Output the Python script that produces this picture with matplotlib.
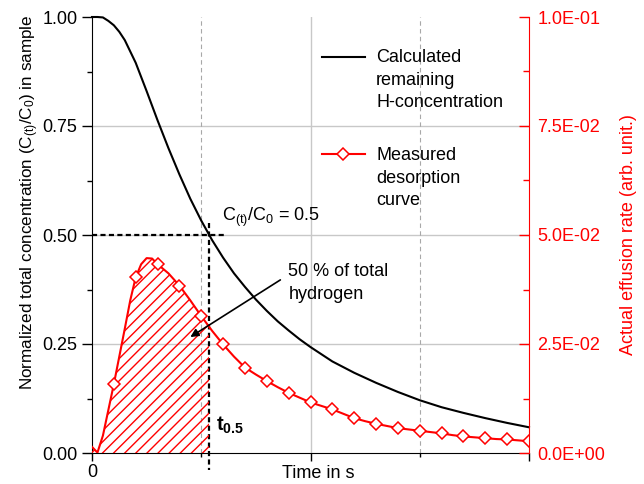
import numpy as np
import matplotlib
matplotlib.use('Agg')
import matplotlib.pyplot as plt
from matplotlib.patches import Rectangle
from matplotlib.ticker import MultipleLocator, FuncFormatter, FormatStrFormatter

plt.rcParams['font.family'] = ['Liberation Sans', 'DejaVu Sans']
plt.rcParams['font.size'] = 13
plt.rcParams['mathtext.fontset'] = 'custom'
plt.rcParams['mathtext.rm'] = 'Liberation Sans'
plt.rcParams['mathtext.it'] = 'Liberation Sans:italic'
plt.rcParams['mathtext.bf'] = 'Liberation Sans:bold'
plt.rcParams['hatch.linewidth'] = 1.0

# calculated remaining H-concentration C(t)/C0 (left axis)
t_calc = [0, 0.025, 0.05, 0.075, 0.1, 0.125, 0.15, 0.2, 0.25, 0.3, 0.35, 0.4,
          0.45, 0.5, 0.55, 0.6, 0.65, 0.7, 0.75, 0.8, 0.85, 0.9, 0.95, 1.0, 1.1,
          1.2, 1.3, 1.4, 1.5, 1.6, 1.7, 1.8, 1.9, 2.0]
c_calc = [1.0, 1.0, 0.999, 0.991, 0.981, 0.966, 0.947, 0.895, 0.83, 0.763,
          0.699, 0.639, 0.583, 0.533, 0.488, 0.448, 0.412, 0.381, 0.352, 0.326,
          0.302, 0.281, 0.261, 0.243, 0.21, 0.184, 0.161, 0.14, 0.121, 0.105,
          0.092, 0.08, 0.069, 0.059]

# measured desorption curve (right axis, arb. unit)
t_rate = [0, 0.025, 0.05, 0.1, 0.15, 0.175, 0.2, 0.225, 0.25, 0.275, 0.3, 0.35,
          0.4, 0.45, 0.5, 0.55, 0.6, 0.65, 0.7, 0.75, 0.8, 0.85, 0.9, 0.95, 1.0,
          1.05, 1.1, 1.15, 1.2, 1.25, 1.3, 1.35, 1.4, 1.45, 1.5, 1.55, 1.6, 1.65,
          1.7, 1.75, 1.8, 1.85, 1.9, 1.95, 2.0]
rate = [0.0014, 0.0001, 0.0040, 0.0158, 0.0285, 0.0350, 0.0403, 0.0433, 0.0447,
        0.0446, 0.0433, 0.0412, 0.0384, 0.0350, 0.0314, 0.0280, 0.0249, 0.0221,
        0.0196, 0.0180, 0.0165, 0.0151, 0.0138, 0.0127, 0.0116, 0.0108, 0.0100,
        0.0090, 0.0080, 0.0073, 0.0067, 0.0062, 0.0057, 0.0054, 0.0051, 0.0048,
        0.0045, 0.0041, 0.0038, 0.0036, 0.0034, 0.0032, 0.0031, 0.0029, 0.0027]

t_half = 0.537  # time where C(t)/C0 = 0.5

# markers every 0.1 s
marker_idx = [i for i, t in enumerate(t_rate)
              if t > 0 and abs(t * 10 - round(t * 10)) < 1e-6]

fig = plt.figure(figsize=(6.44, 4.84), dpi=100)
ax = fig.add_axes([92 / 644, 31 / 484, 437 / 644, 436 / 484])
ax2 = ax.twinx()

# grid
for y in [0.25, 0.5, 0.75]:
    ax.axhline(y, color='#c8c8c8', lw=1.0, zorder=0)
ax.axvline(1.0, color='#c8c8c8', lw=1.0, zorder=0)
for x in [0.5, 1.5]:
    ax.axvline(x, color='#a8a8a8', lw=0.8, ls=(0, (4, 3)), zorder=0)

# calculated curve
ax.plot(t_calc, c_calc, color='black', lw=1.5, clip_on=False, zorder=3)

# t0.5 construction lines
ax.plot([0, 0.61], [0.5, 0.5], color='black', lw=1.6, ls=(0, (2.3, 1.5)), zorder=4)
ax.plot([t_half, t_half], [0.528, -0.04], color='black', lw=1.6,
        ls=(0, (2.3, 1.5)), clip_on=False, zorder=4)

ax.set_xlim(0, 2)
ax.set_ylim(0, 1)
ax.yaxis.set_major_locator(MultipleLocator(0.25))
ax.yaxis.set_minor_locator(MultipleLocator(0.125))
ax.yaxis.set_major_formatter(FormatStrFormatter('%.2f'))
ax.set_xticks([0, 1, 2], ['0', '', ''])
ax.set_xticks([0.5, 1.5], minor=True)
ax.tick_params(axis='y', which='major', direction='out', length=7, width=1)
ax.tick_params(axis='y', which='minor', direction='out', length=3.5, width=1)
ax.tick_params(axis='x', which='major', direction='out', length=6, width=1, pad=2)
ax.tick_params(axis='x', which='minor', direction='out', length=3, width=1)
ax.spines['top'].set_visible(False)
ax.spines['right'].set_visible(False)

ax.set_ylabel('Normalized total concentration (C$_\\mathregular{(t)}$/C$_\\mathregular{0}$) in sample',
              fontsize=12.3)
ax.yaxis.set_label_coords(-0.117, 0.575)
ax.set_xlabel('Time in s')
ax.xaxis.set_label_coords(0.517, -0.0275)

# measured curve
fill = ax2.fill_between(t_rate, 0, rate, facecolor='none', edgecolor='red',
                        hatch='///', linewidth=0)
fill.set_clip_path(Rectangle((0, 0), t_half, 0.1, transform=ax2.transData))
ax2.plot(t_rate, rate, color='red', lw=1.5, marker='D', ms=6.5, mfc='white',
         mec='red', mew=1.1, markevery=marker_idx)

ax2.set_ylim(0, 0.1)
ax2.yaxis.set_major_locator(MultipleLocator(0.025))
ax2.yaxis.set_minor_locator(MultipleLocator(0.0125))
ax2.yaxis.set_major_formatter(FuncFormatter(lambda v, p: f'{v:.1E}'))
ax2.tick_params(axis='y', which='major', direction='in', length=7, width=1,
                color='red', labelcolor='red', pad=6)
ax2.tick_params(axis='y', which='minor', direction='in', length=4, width=1,
                color='red')
for side in ['top', 'left', 'bottom']:
    ax2.spines[side].set_visible(False)
ax2.spines['right'].set_color('red')
ax2.set_ylabel('Actual effusion rate (arb. unit.)', color='red', fontsize=13)
ax2.yaxis.set_label_coords(1.209, 0.5)

# legend
ax2.plot([0.526, 0.625], [0.908, 0.908], color='black', lw=1.5,
         transform=ax2.transAxes, clip_on=False)
ax2.text(0.650, 0.927, 'Calculated\nremaining\nH-concentration',
         transform=ax2.transAxes, va='top', ha='left', linespacing=1.44)
ax2.plot([0.526, 0.625], [0.686, 0.686], color='red', lw=1.5,
         transform=ax2.transAxes, clip_on=False)
ax2.plot([0.5755], [0.686], marker='D', ms=6.5, mfc='white', mec='red', mew=1.1,
         transform=ax2.transAxes, clip_on=False)
ax2.text(0.650, 0.702, 'Measured\ndesorption\ncurve',
         transform=ax2.transAxes, va='top', ha='left', linespacing=1.44)

# annotations
ax2.text(0.596, 0.0532, 'C$_\\mathregular{(t)}$/C$_\\mathregular{0}$ = 0.5',
         va='baseline', ha='left')
ax2.text(0.899, 0.0436, '50 % of total\nhydrogen', va='top', ha='left',
         linespacing=1.44)
ax2.annotate('', xy=(0.45, 0.0266), xytext=(0.862, 0.0397),
             arrowprops=dict(arrowstyle='-|>', color='black', lw=1.2,
                             mutation_scale=12, shrinkA=0, shrinkB=0))
ax2.text(0.566, 0.0050, 't$_\\mathbf{0.5}$', fontweight='bold', fontsize=14.5,
         va='baseline', ha='left')

fig.savefig('out.png', dpi=100)
